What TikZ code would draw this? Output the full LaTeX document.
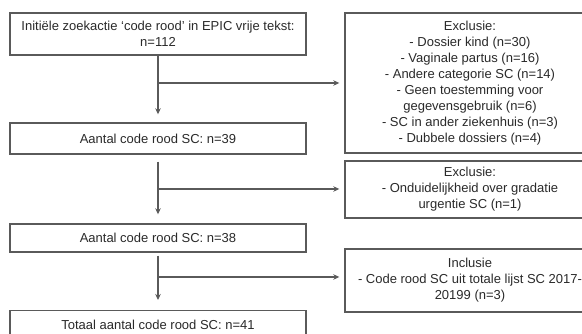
\documentclass[tikz,border=0pt]{standalone}
\usepackage{fontspec}
\setmainfont{Liberation Sans}
\usepackage{xcolor}
\usetikzlibrary{arrows.meta,positioning}
\definecolor{linegray}{HTML}{5A5A5A}
\definecolor{textgray}{HTML}{2A2A2A}

\begin{document}
\begin{tikzpicture}[
    x=1pt, y=1pt,
    font=\fontsize{13}{16}\selectfont,
    mainbox/.style={rectangle, draw=linegray, line width=1.4pt, fill=white, text=textgray, minimum width=296pt, align=center, inner sep=2pt},
    sidebox/.style={rectangle, draw=linegray, line width=1.4pt, fill=white, text=textgray, minimum width=250pt, align=center, inner sep=2pt},
    arrow/.style={-{Stealth[length=6pt,width=5.5pt]}, draw=linegray, line width=1.2pt}
]
\useasboundingbox (0,0) rectangle (582,-334);

% Left column: counts
\node[mainbox, minimum height=42pt] (search) at (158,-34) {Initiële zoekactie ‘code rood’ in EPIC vrije tekst:\\n=112};
\node[mainbox, minimum height=31pt] (count1) at (158,-138.5) {Aantal code rood SC: n=39};
\node[mainbox, minimum height=28pt] (count2) at (158,-238) {Aantal code rood SC: n=38};
\node[mainbox, minimum height=28pt, anchor=north] (total) at (158,-310) {Totaal aantal code rood SC: n=41};

% Right column: exclusions and inclusion
\node[sidebox, minimum height=140pt] (excl1) at (470,-83) {Exclusie:\\- Dossier kind (n=30)\\- Vaginale partus (n=16)\\- Andere categorie SC (n=14)\\- Geen toestemming voor\\gegevensgebruik (n=6)\\- SC in ander ziekenhuis (n=3)\\- Dubbele dossiers (n=4)};
\node[sidebox, minimum height=57pt] (excl2) at (470,-189.5) {Exclusie:\\- Onduidelijkheid over gradatie\\urgentie SC (n=1)};
\node[sidebox, minimum height=63pt] (incl) at (470,-280.5) {Inclusie\\- Code rood SC uit totale lijst SC 2017-\\20199 (n=3)};

% Main flow
\draw[arrow, shorten >=8pt] (search.south) -- (count1.north);
\draw[arrow, shorten <=7pt, shorten >=9pt] (count1.south) -- (count2.north);
\draw[arrow, shorten <=3pt, shorten >=10pt] (count2.south) -- (total.north);

% Side branches
\coordinate (split1) at (158,-83);
\coordinate (split2) at (158,-189);
\coordinate (split3) at (158,-277);
\draw[arrow, shorten >=5pt] (split1) -- (split1 -| excl1.west);
\draw[arrow, shorten >=5pt] (split2) -- (split2 -| excl2.west);
\draw[arrow, shorten >=5pt] (split3) -- (split3 -| incl.west);

\end{tikzpicture}
\end{document}
